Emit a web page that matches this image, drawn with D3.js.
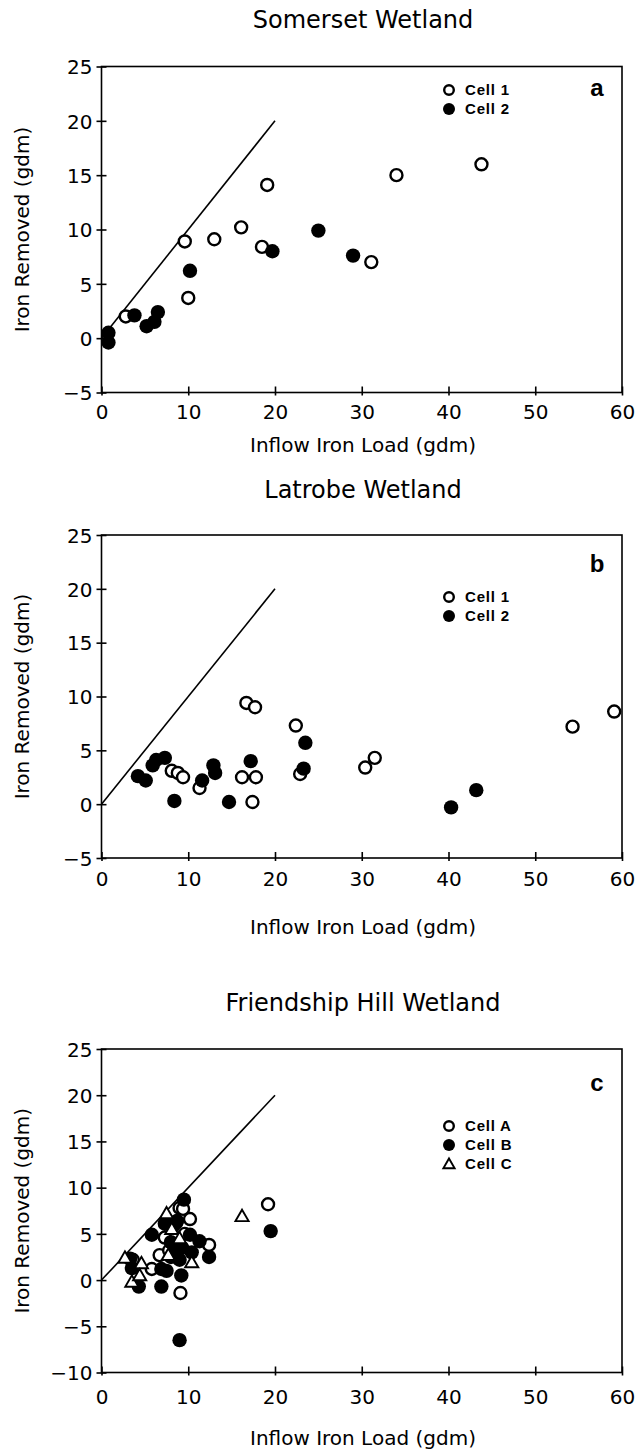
<!DOCTYPE html>
<html>
<head>
<meta charset="utf-8">
<script src="https://cdn.jsdelivr.net/npm/d3@7"></script>
<style>
  html, body { margin: 0; padding: 0; background: #fff; }
  svg { display: block; }
</style>
</head>
<body>
<svg id="chart" width="638" height="1450"></svg>
<script>
// ---------------- DATA ----------------
const xTicks = [0, 10, 20, 30, 40, 50, 60];
const yTicksAB = [-5, 0, 5, 10, 15, 20, 25];
const yTicksC = [-10, -5, 0, 5, 10, 15, 20, 25];
const panelTitles = ["Somerset Wetland", "Latrobe Wetland", "Friendship Hill Wetland"];
const panelLetters = ["a", "b", "c"];
const xAxisTitle = "Inflow Iron Load (gdm)";
const yAxisTitle = "Iron Removed (gdm)";
const legendAB = ["Cell 1", "Cell 2"];
const legendC = ["Cell A", "Cell B", "Cell C"];
const referenceLine = [[0, 0], [20, 20]];

// Somerset Wetland
const somersetCell1 = [[2.8, 2.0], [9.6, 8.9], [10.0, 3.7], [13.0, 9.1], [16.1, 10.2], [19.1, 14.1],
  [18.5, 8.4], [31.1, 7.0], [34.0, 15.0], [43.8, 16.0]];
const somersetCell2 = [[0.8, 0.5], [0.8, -0.4], [3.8, 2.1], [5.2, 1.1], [6.1, 1.5], [6.5, 2.4],
  [10.2, 6.2], [19.7, 8.0], [25.0, 9.9], [29.0, 7.6]];

// Latrobe Wetland
const latrobeCell1 = [[16.7, 9.4], [17.7, 9.0], [22.4, 7.3], [8.1, 3.1], [8.8, 2.9], [9.4, 2.5],
  [11.3, 1.5], [16.2, 2.5], [17.8, 2.5], [17.4, 0.2], [22.9, 2.8], [30.4, 3.4], [31.5, 4.3],
  [54.3, 7.2], [59.1, 8.6]];
const latrobeCell2 = [[4.2, 2.6], [5.1, 2.2], [5.9, 3.6], [6.3, 4.1], [7.3, 4.3], [8.4, 0.3],
  [11.6, 2.2], [12.9, 3.6], [13.1, 2.9], [14.7, 0.2], [17.2, 4.0], [23.5, 5.7], [23.3, 3.3],
  [40.3, -0.3], [43.2, 1.3]];

// Friendship Hill Wetland
const fhCellA = [[5.8, 1.2], [6.7, 2.7], [7.3, 4.6], [8.6, 6.2], [9.0, 7.8], [9.4, 7.7],
  [10.2, 6.6], [12.4, 3.8], [9.1, -1.4], [19.2, 8.2], [7.8, 3.2], [9.6, 5.0], [3.6, 2.2]];
const fhCellB = [[3.3, 2.3], [3.5, 1.3], [4.3, -0.7], [6.9, -0.7], [6.9, 1.2], [5.8, 4.9],
  [7.3, 6.1], [8.3, 5.9], [8.7, 6.4], [9.5, 8.7], [10.2, 4.9], [11.3, 4.2], [12.4, 2.5],
  [9.2, 0.5], [9.0, 2.2], [8.5, 3.0], [9.3, 3.5], [8.0, 4.1], [9.0, -6.5], [19.5, 5.3],
  [7.5, 1.0], [10.4, 3.0], [8.0, 2.5]];
const fhCellC = [[2.7, 2.4], [3.5, -0.2], [4.6, 1.8], [4.4, 0.5], [7.7, 2.7], [7.5, 7.2],
  [10.4, 1.9], [16.2, 6.9], [8.1, 5.5], [9.0, 4.5]];

// ---------------- LAYOUT ----------------
const svg = d3.select("#chart");
const fontMain = "'DejaVu Sans', sans-serif";
const fontLegend = "'Liberation Sans', Arial, sans-serif";
const xLeft = 101.5, xRight = 622;

const panels = [
  { title: panelTitles[0], letter: panelLetters[0], yDomain: [-5, 25], yTicks: yTicksAB,
    top: 66.5, bottom: 392.5, titleY: 28, tickLabelY: 419, xTitleY: 452,
    legend: legendAB, legendY: 90, letterY: 96,
    series: [{ data: somersetCell1, type: "open" }, { data: somersetCell2, type: "filled" }] },
  { title: panelTitles[1], letter: panelLetters[1], yDomain: [-5, 25], yTicks: yTicksAB,
    top: 535, bottom: 858, titleY: 498, tickLabelY: 886, xTitleY: 934,
    legend: legendAB, legendY: 597, letterY: 572,
    series: [{ data: latrobeCell1, type: "open" }, { data: latrobeCell2, type: "filled" }] },
  { title: panelTitles[2], letter: panelLetters[2], yDomain: [-10, 25], yTicks: yTicksC,
    top: 1049, bottom: 1372.5, titleY: 1011, tickLabelY: 1404, xTitleY: 1445,
    legend: legendC, legendY: 1126, letterY: 1091,
    series: [{ data: fhCellA, type: "open" }, { data: fhCellB, type: "filled" }, { data: fhCellC, type: "triangle" }] }
];

const triPath = d3.symbol().type(d3.symbolTriangle).size(75)();
const triLegend = d3.symbol().type(d3.symbolTriangle).size(55)();

function drawMarker(g, type, cx, cy, r, legend) {
  if (type === "open") {
    g.append("circle").attr("cx", cx).attr("cy", cy).attr("r", r)
      .attr("fill", "#fff").attr("stroke", "#000").attr("stroke-width", 2.4);
  } else if (type === "filled") {
    g.append("circle").attr("cx", cx).attr("cy", cy).attr("r", r + 1.2)
      .attr("fill", "#000").attr("stroke", "none");
  } else {
    g.append("path").attr("d", legend ? triLegend : triPath)
      .attr("transform", `translate(${cx},${cy + 1})`)
      .attr("fill", "#fff").attr("stroke", "#000").attr("stroke-width", 1.9);
  }
}

panels.forEach(p => {
  const x = d3.scaleLinear().domain([0, 60]).range([xLeft, xRight]);
  const y = d3.scaleLinear().domain(p.yDomain).range([p.bottom, p.top]);
  const g = svg.append("g");

  // Title
  g.append("text").attr("x", 363).attr("y", p.titleY).attr("text-anchor", "middle")
    .attr("font-family", fontMain).attr("font-size", 24).text(p.title);

  // Frame
  g.append("rect").attr("x", xLeft).attr("y", p.top)
    .attr("width", xRight - xLeft).attr("height", p.bottom - p.top)
    .attr("fill", "none").attr("stroke", "#000").attr("stroke-width", 1.6);

  // X axis
  const xAxis = d3.axisBottom(x).tickValues(xTicks).tickFormat(d3.format("d")).tickSize(5).tickPadding(0);
  const gx = g.append("g").attr("transform", `translate(0,${p.bottom})`).call(xAxis);
  gx.select(".domain").remove();
  gx.selectAll(".tick line").attr("y1", -6).attr("y2", 3).attr("stroke-width", 1.6);
  gx.selectAll(".tick text").attr("y", p.tickLabelY - p.bottom).attr("dy", 0)
    .attr("font-family", fontMain).attr("font-size", 20).attr("fill", "#000");

  // Y axis
  const yAxis = d3.axisLeft(y).tickValues(p.yTicks)
    .tickFormat(d => d < 0 ? "\u2212" + Math.abs(d) : String(d)).tickSize(5).tickPadding(6);
  const gy = g.append("g").attr("transform", `translate(${xLeft},0)`).call(yAxis);
  gy.select(".domain").remove();
  gy.selectAll(".tick line").attr("x1", -5).attr("x2", 5).attr("stroke-width", 1.6);
  gy.selectAll(".tick text").attr("x", -9).attr("dy", "0.36em")
    .attr("font-family", fontMain).attr("font-size", 20).attr("fill", "#000");

  // Axis titles
  g.append("text").attr("x", 363).attr("y", p.xTitleY).attr("text-anchor", "middle")
    .attr("font-family", fontMain).attr("font-size", 20).text(xAxisTitle);
  g.append("text").attr("transform", `translate(29,${(p.top + p.bottom) / 2}) rotate(-90)`)
    .attr("text-anchor", "middle").attr("font-family", fontMain).attr("font-size", 20)
    .text(yAxisTitle);

  // Reference 1:1 line
  g.append("path").datum(referenceLine)
    .attr("d", d3.line().x(d => x(d[0])).y(d => y(d[1])))
    .attr("fill", "none").attr("stroke", "#000").attr("stroke-width", 1.6);

  // Points
  p.series.forEach(s => {
    s.data.forEach(d => drawMarker(g, s.type, x(d[0]), y(d[1]), 6, false));
  });

  // Legend
  const legTypes = p.series.map(s => s.type);
  p.legend.forEach((lab, i) => {
    const ly = p.legendY + i * 19;
    drawMarker(g, legTypes[i], 449, ly, 4.8, true);
    g.append("text").attr("x", 465).attr("y", ly + 5).attr("font-family", fontLegend)
      .attr("font-weight", "bold").attr("font-size", 15).attr("letter-spacing", 0.8).text(lab);
  });

  // Panel letter
  g.append("text").attr("x", 597).attr("y", p.letterY).attr("text-anchor", "middle")
    .attr("font-family", fontLegend).attr("font-weight", "bold").attr("font-size", 24).text(p.letter);
});
</script>
</body>
</html>
